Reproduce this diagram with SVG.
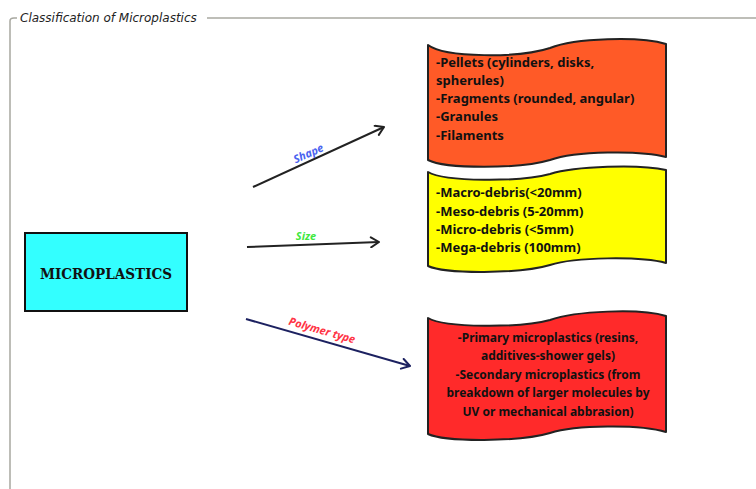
<svg xmlns="http://www.w3.org/2000/svg" width="756" height="489" viewBox="0 0 756 489">
<defs>
<style>
.frame{fill:none;stroke:#a8a8a0;stroke-width:1.5}
.title{font-family:"DejaVu Sans",sans-serif;font-style:italic;font-size:12px;fill:#222}
.banner{stroke:#222;stroke-width:2;stroke-linejoin:round}
.txt{font-family:"Noto Sans","DejaVu Sans",sans-serif;font-size:13px;font-weight:bold;fill:#111}
.txt2{font-family:"Noto Sans","DejaVu Sans",sans-serif;font-size:12px;font-weight:bold;fill:#111}
.conn{fill:none;stroke-width:2}
.lbl{font-family:"Noto Sans","DejaVu Sans",sans-serif;font-style:italic;font-size:11px;font-weight:bold}
</style>
<marker id="ahDark" viewBox="0 0 12 12" refX="10" refY="6" markerWidth="12" markerHeight="12" markerUnits="userSpaceOnUse" orient="auto">
<path d="M2,1 L10,6 L2,11" fill="none" stroke="#222" stroke-width="2" stroke-linecap="round" stroke-linejoin="round"/>
</marker>
<marker id="ahNavy" viewBox="0 0 12 12" refX="10" refY="6" markerWidth="12" markerHeight="12" markerUnits="userSpaceOnUse" orient="auto">
<path d="M2,1 L10,6 L2,11" fill="none" stroke="#1c2160" stroke-width="2" stroke-linecap="round" stroke-linejoin="round"/>
</marker>
</defs>
<rect width="756" height="489" fill="#ffffff"/>
<g id="frame">
<path class="frame" d="M10,489 L10,21 Q10,18 14,18 L17,18"/>
<path class="frame" d="M207,18 L756,18"/>
<text class="title" x="20" y="22">Classification of Microplastics</text>
</g>
<g id="connectors">
<line class="conn" x1="253" y1="187" x2="384" y2="127" stroke="#222" marker-end="url(#ahDark)"/>
<line class="conn" x1="247" y1="247" x2="379" y2="242" stroke="#222" marker-end="url(#ahDark)"/>
<line class="conn" x1="246" y1="319" x2="410" y2="366" stroke="#1c2160" marker-end="url(#ahNavy)"/>
<text class="lbl" fill="#4a63f0" transform="translate(310,157) rotate(-24)" text-anchor="middle">Shape</text>
<text class="lbl" fill="#3fe83f" x="306" y="240" text-anchor="middle">Size</text>
<text class="lbl" fill="#ff3344" transform="translate(321,334) rotate(16)" text-anchor="middle">Polymer type</text>
</g>
<g id="microplastics">
<rect x="25" y="233" width="162" height="78" fill="#33ffff" stroke="#111" stroke-width="2"/>
<text x="106" y="279" text-anchor="middle" font-family="DejaVu Serif,serif" font-weight="bold" font-size="15" fill="#111" textLength="132" lengthAdjust="spacingAndGlyphs">MICROPLASTICS</text>
</g>
<g id="shape-box">
<path class="banner" fill="#ff5a27" d="M428,45 C445,58 520,58 550,48 C575,38 640,36 666,44 L666,157 C640,150 575,151 550,160 C520,169 445,169 428,160 Z"/>
<text class="txt" x="436" y="67">-Pellets (cylinders, disks,</text>
<text class="txt" x="436" y="85">spherules)</text>
<text class="txt" x="436" y="103">-Fragments (rounded, angular)</text>
<text class="txt" x="436" y="121">-Granules</text>
<text class="txt" x="436" y="140">-Filaments</text>
</g>
<g id="size-box">
<path class="banner" fill="#ffff00" d="M428,172 C445,182 520,182 550,174 C575,166 640,164 666,170 L666,263 C640,256 575,257 550,265 C520,274 445,274 428,266 Z"/>
<text class="txt" x="436" y="197">-Macro-debris(&lt;20mm)</text>
<text class="txt" x="436" y="216">-Meso-debris (5-20mm)</text>
<text class="txt" x="436" y="234">-Micro-debris (&lt;5mm)</text>
<text class="txt" x="436" y="252">-Mega-debris (100mm)</text>
</g>
<g id="polymer-box">
<path class="banner" fill="#ff2a2a" d="M428,318 C445,328 520,328 550,320 C575,311 640,308 666,316 L666,432 C640,424 575,425 550,433 C520,442 445,442 428,434 Z"/>
<text class="txt2" x="548" y="342" text-anchor="middle">-Primary microplastics (resins,</text>
<text class="txt2" x="548" y="360" text-anchor="middle">additives-shower gels)</text>
<text class="txt2" x="548" y="379" text-anchor="middle">-Secondary microplastics (from</text>
<text class="txt2" x="548" y="397" text-anchor="middle">breakdown of larger molecules by</text>
<text class="txt2" x="548" y="416" text-anchor="middle">UV or mechanical abbrasion)</text>
</g>
</svg>
